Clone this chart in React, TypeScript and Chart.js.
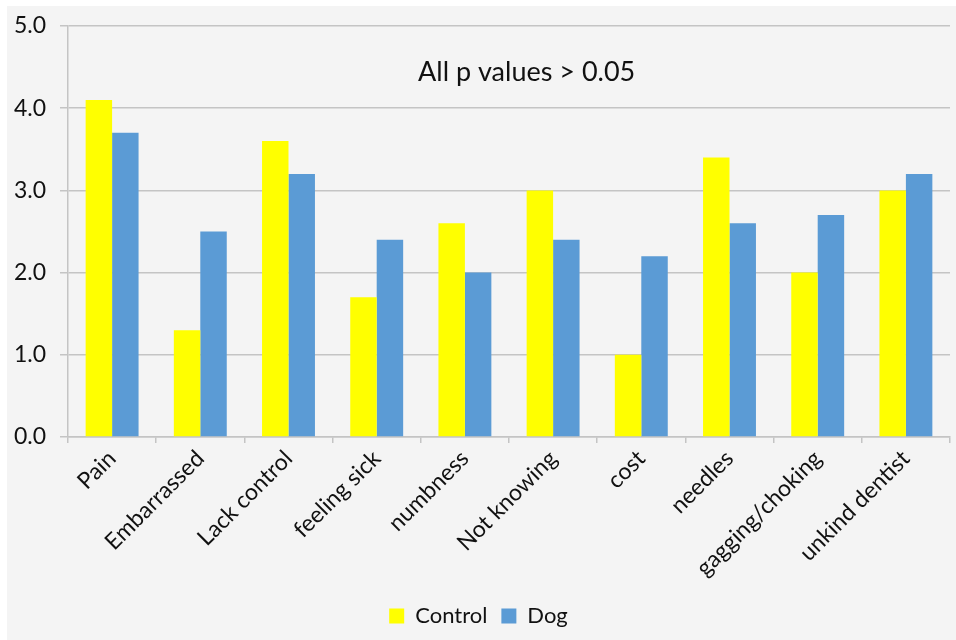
import React, { useEffect, useRef } from "react";
import { Chart, registerables } from "chart.js";

Chart.register(...registerables);

const categories = [
  "Pain",
  "Embarrassed",
  "Lack control",
  "feeling sick",
  "numbness",
  "Not knowing",
  "cost",
  "needles",
  "gagging/choking",
  "unkind dentist",
];
const controlValues = [4.1, 1.3, 3.6, 1.7, 2.6, 3.0, 1.0, 3.4, 2.0, 3.0];
const dogValues = [3.7, 2.5, 3.2, 2.4, 2.0, 2.4, 2.2, 2.6, 2.7, 3.2];
const annotationText = "All p values > 0.05";

const FONT = "Lato, 'Open Sans', sans-serif";

const annotationPlugin = {
  id: "annotationText",
  afterDatasetsDraw(chart: any) {
    const { ctx, chartArea } = chart;
    ctx.save();
    ctx.font = `27px ${FONT}`;
    ctx.fillStyle = "#111";
    ctx.textAlign = "center";
    ctx.textBaseline = "middle";
    const x = chartArea.left + (chartArea.right - chartArea.left) * 0.52;
    ctx.fillText(annotationText, x, chartArea.top + 46);
    ctx.restore();
  },
};

export default function App() {
  const ref = useRef<HTMLCanvasElement | null>(null);

  useEffect(() => {
    document.body.style.margin = "0";
    const canvas = ref.current;
    if (!canvas) return;
    const chart = new Chart(canvas, {
      type: "bar",
      data: {
        labels: categories,
        datasets: [
          {
            label: "Control",
            data: controlValues,
            backgroundColor: "#FFFF00",
            categoryPercentage: 0.6,
            barPercentage: 1.0,
          },
          {
            label: "Dog",
            data: dogValues,
            backgroundColor: "#5B9BD5",
            categoryPercentage: 0.6,
            barPercentage: 1.0,
          },
        ],
      },
      options: {
        animation: false,
        responsive: false,
        maintainAspectRatio: false,
        layout: { padding: { left: 0, right: 6, top: 20, bottom: 3 } },
        plugins: {
          legend: {
            position: "bottom",
            labels: {
              boxWidth: 15,
              boxHeight: 15,
              padding: 14,
              color: "#111",
              font: { family: FONT, size: 22 },
            },
          },
          tooltip: { enabled: false },
          title: { display: false },
        },
        scales: {
          x: {
            grid: {
              display: true,
              offset: true,
              drawOnChartArea: false,
              drawTicks: true,
              tickLength: 6,
              color: "#c4c4c4",
              lineWidth: 1.5,
            },
            border: { display: true, color: "#c4c4c4", width: 1.5 },
            ticks: {
              minRotation: 45,
              maxRotation: 45,
              color: "#111",
              font: { family: FONT, size: 23 },
              padding: 2,
            },
            afterFit(scale: any) {
              scale.height = 154;
              scale.paddingLeft = 0;
              scale.paddingRight = 0;
            },
          },
          y: {
            min: 0,
            max: 5,
            ticks: {
              stepSize: 1,
              color: "#111",
              font: { family: FONT, size: 23 },
              padding: 14,
              callback: (v: any) => Number(v).toFixed(1),
            },
            grid: {
              color: "#c4c4c4",
              lineWidth: 1.5,
              drawTicks: true,
              tickLength: 8,
            },
            border: { display: true, color: "#c4c4c4", width: 1.5 },
            afterFit(scale: any) {
              scale.width = 61;
              scale.paddingTop = 0;
              scale.paddingBottom = 0;
            },
          },
        },
      },
      plugins: [annotationPlugin],
    });
    return () => chart.destroy();
  }, []);

  return (
    <div style={{ width: 956, height: 640, background: "#fff", position: "relative", overflow: "hidden" }}>
      <div
        style={{
          position: "absolute",
          left: 7,
          top: 6,
          width: 949,
          height: 634,
          background: "#f4f4f4",
        }}
      >
        <canvas ref={ref} width={949} height={634} style={{ display: "block" }} />
      </div>
    </div>
  );
}
